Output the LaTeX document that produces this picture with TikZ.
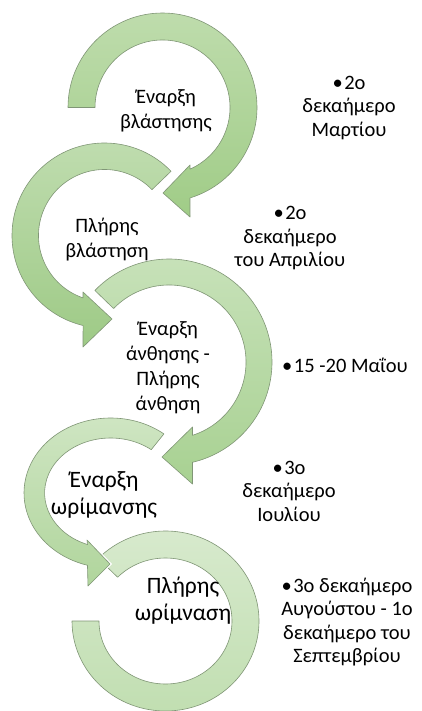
\documentclass[tikz,border=0pt]{standalone}
\usepackage{fontspec}
\setmainfont{Carlito}
\usetikzlibrary{calc}

\definecolor{ringline}{RGB}{128,150,118}
\definecolor{r1t}{RGB}{190,220,172}
\definecolor{r1b}{RGB}{160,204,135}
\definecolor{r2t}{RGB}{192,221,176}
\definecolor{r2b}{RGB}{158,202,134}
\definecolor{r3t}{RGB}{200,226,186}
\definecolor{r3b}{RGB}{168,209,146}
\definecolor{r4t}{RGB}{208,230,196}
\definecolor{r4b}{RGB}{176,213,156}
\definecolor{r5t}{RGB}{216,234,206}
\definecolor{r5b}{RGB}{192,222,176}

\newcommand\blt{•\hspace{1.5pt}}

\tikzset{
  ring/.style={preaction={draw=white,line width=3pt},draw=ringline,line width=0.6pt,line join=round},
  stagetext/.style={align=center,inner sep=0pt,font=\fontsize{20.5}{25}\selectfont},
  bigstage/.style={align=center,inner sep=0pt,font=\fontsize{23.5}{27}\selectfont},
  datetext/.style={align=center,inner sep=0pt,font=\fontsize{20.5}{23.5}\selectfont}
}

\begin{document}
\begin{tikzpicture}[x=1pt,y=1pt]
\useasboundingbox (0,0) rectangle (421,-711);
\fill[white] (0,0) rectangle (421,-711);

% ring centres
\coordinate (c1) at (162.5,-107.5);
\coordinate (c2) at (104.5,-235.5);
\coordinate (c3) at (169,-362);
\coordinate (c4) at (110.6,-493);
\coordinate (c5) at (165.5,-621);

% arrow heads: outer wing, tip, inner wing
\coordinate (w1o) at (190,-217);  \coordinate (t1) at (163,-193);  \coordinate (w1i) at (190,-165);
\coordinate (w2o) at (83,-347);   \coordinate (t2) at (112,-319);  \coordinate (w2i) at (83,-292);
\coordinate (w3o) at (192.5,-484);\coordinate (t3) at (162,-457);  \coordinate (w3i) at (192.5,-427);
\coordinate (w4o) at (88,-586);   \coordinate (t4) at (110,-564);  \coordinate (w4i) at (87,-540);

% last stage: open ring without head
\path[ring,top color=r5t,bottom color=r5b]
  ($(c5)+(136:93.5pt and 90pt)$) arc[start angle=136,end angle=-180,x radius=93.5pt,y radius=90pt]
  -- ($(c5)+(180:66.5pt and 63pt)$) arc[start angle=-180,end angle=136,x radius=66.5pt,y radius=63pt] -- cycle;

\path[ring,top color=r4t,bottom color=r4b]
  ($(c4)+(52:86.6pt and 75pt)$) arc[start angle=52,end angle=254.5,x radius=86.6pt,y radius=75pt]
  -- (w4o) -- (t4) -- (w4i)
  -- ($(c4)+(249.5:66pt and 55pt)$) arc[start angle=249.5,end angle=52,x radius=66pt,y radius=55pt] -- cycle;

\path[ring,top color=r3t,bottom color=r3b]
  ($(c3)+(136:103pt)$) arc[start angle=136,end angle=-76.8,radius=103pt]
  -- (w3o) -- (t3) -- (w3i)
  -- ($(c3)+(-72.2:77pt)$) arc[start angle=-72.2,end angle=136,radius=77pt] -- cycle;

\path[ring,top color=r2t,bottom color=r2b]
  ($(c2)+(44:92.5pt)$) arc[start angle=44,end angle=256.6,radius=92.5pt]
  -- (w2o) -- (t2) -- (w2i)
  -- ($(c2)+(251:66pt)$) arc[start angle=251,end angle=44,radius=66pt] -- cycle;

\path[ring,top color=r1t,bottom color=r1b]
  ($(c1)+(180:94.5pt)$) arc[start angle=180,end angle=-73.1,radius=94.5pt]
  -- (w1o) -- (t1) -- (w1i)
  -- ($(c1)+(-66:67.5pt)$) arc[start angle=-66,end angle=180,radius=67.5pt] -- cycle;

% stage labels
\node[stagetext] (s1) at (166,-111) {Έναρξη\\βλάστησης};
\node[stagetext] (s2) at (107,-240) {Πλήρης\\βλάστηση};
\node[stagetext] (s3) at (168,-368) {Έναρξη\\άνθησης -\\Πλήρης\\άνθηση};
\node[bigstage] (s4) at (104,-495) {Έναρξη\\ωρίμανσης};
\node[bigstage] (s5) at (183,-601) {Πλήρης\\ωρίμναση};

% dates
\node[datetext] (d1) at (349,-108) {\blt 2ο\\δεκαήμερο\\Μαρτίου};
\node[datetext] (d2) at (290,-238) {\blt 2ο\\δεκαήμερο\\του Απριλίου};
\node[datetext] (d3) at (345,-365) {\blt 15 -20 Μαΐου};
\node[datetext] (d4) at (289,-491) {\blt 3ο\\δεκαήμερο\\Ιουλίου};
\node[datetext] (d5) at (347,-622) {\blt 3ο δεκαήμερο\\Αυγούστου - 1ο\\δεκαήμερο του\\Σεπτεμβρίου};
\end{tikzpicture}
\end{document}
